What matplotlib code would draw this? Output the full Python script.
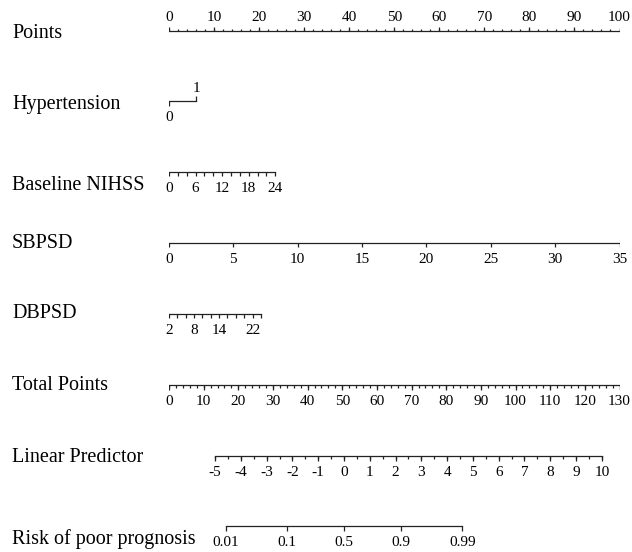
import numpy as np
import matplotlib
matplotlib.use("Agg")
import matplotlib.pyplot as plt
import matplotlib.transforms as mtransforms

plt.rcParams['font.family'] = ['Liberation Serif', 'DejaVu Serif']

# --- nomogram data ---
points_ticks = list(range(0, 101, 10))
points_minor = list(range(0, 101, 2))

hyper_vals = [0, 1]
hyper_pts = [0, 6.0]           # points for hypertension = 1

nihss_range = [0, 24]
nihss_pts_max = 23.6           # points at NIHSS = 24
nihss_labels = [0, 6, 12, 18, 24]
nihss_ticks = list(range(0, 25, 2))

sbpsd_range = [0, 35]
sbpsd_pts_max = 100.0
sbpsd_labels = [0, 5, 10, 15, 20, 25, 30, 35]

dbpsd_range = [2, 24]
dbpsd_pts_max = 20.4
dbpsd_labels = [2, 8, 14, 22]
dbpsd_ticks = list(range(2, 25, 2))

total_max = 130
total_labels = list(range(0, 131, 10))
total_minor = list(range(0, 131, 2))

lp_labels = list(range(-5, 11))
lp_minor = list(np.arange(-5, 10.01, 0.5))
tp_at_lp = [13.3, 124.9]       # total points at LP = -5 and LP = 10

risk_labels = [0.01, 0.1, 0.5, 0.9, 0.99]

row_names = ["Points", "Hypertension", "Baseline NIHSS", "SBPSD", "DBPSD",
             "Total Points", "Linear Predictor", "Risk of poor prognosis"]
row_y = [31, 101, 172, 243, 314, 385, 456, 526]
name_y = [34, 104, 185, 243, 314, 385, 457, 539]

fig = plt.figure(figsize=(6.32, 5.52), dpi=100)
ax = fig.add_axes([169 / 632, 0, 450.5 / 632, 1])
ax.set_xlim(0, 100)
ax.set_ylim(552, 0)
ax.axis('off')

lc = '#222222'
lw = 0.9
fs = 11


def scale(vals, lo, hi, pmax):
    return [(v - lo) / (hi - lo) * pmax for v in vals]


def tp2x(tp):
    return np.asarray(tp) * 100.0 / total_max


def lp2tp(lp):
    a, b = tp_at_lp
    return a + (np.asarray(lp) + 5) * (b - a) / 15.0


# Points
y = row_y[0]
ax.plot([0, 100], [y, y], color=lc, lw=lw)
ax.vlines(points_minor, y - 2.5, y, color=lc, lw=lw)
ax.vlines(points_ticks, y - 4, y, color=lc, lw=lw)
for v in points_ticks:
    ax.text(v, y - 7, str(v), ha='center', va='bottom', fontsize=fs)

# Hypertension
y = row_y[1]
ax.plot(hyper_pts, [y, y], color=lc, lw=lw)
ax.vlines(hyper_pts[0], y, y + 5, color=lc, lw=lw)
ax.vlines(hyper_pts[1], y - 5, y, color=lc, lw=lw)
ax.text(hyper_pts[0], y + 10, str(hyper_vals[0]), ha='center', va='top', fontsize=fs)
ax.text(hyper_pts[1], y - 6, str(hyper_vals[1]), ha='center', va='bottom', fontsize=fs)


def down_scale(y, tick_x, label_x, labels):
    ax.plot([min(tick_x), max(tick_x)], [y, y], color=lc, lw=lw)
    ax.vlines(tick_x, y, y + 4, color=lc, lw=lw)
    for xx, lab in zip(label_x, labels):
        ax.text(xx, y + 10, str(lab), ha='center', va='top', fontsize=fs)


# Baseline NIHSS
down_scale(row_y[2], scale(nihss_ticks, *nihss_range, nihss_pts_max),
           scale(nihss_labels, *nihss_range, nihss_pts_max), nihss_labels)
# SBPSD
down_scale(row_y[3], scale(sbpsd_labels, *sbpsd_range, sbpsd_pts_max),
           scale(sbpsd_labels, *sbpsd_range, sbpsd_pts_max), sbpsd_labels)
# DBPSD
dlo = dbpsd_range[0]
down_scale(row_y[4], scale(dbpsd_ticks, dlo, dbpsd_range[1], dbpsd_pts_max),
           scale(dbpsd_labels, dlo, dbpsd_range[1], dbpsd_pts_max), dbpsd_labels)

# Total Points
y = row_y[5]
ax.plot([0, 100], [y, y], color=lc, lw=lw)
ax.vlines(tp2x(total_minor), y, y + 3, color=lc, lw=lw)
ax.vlines(tp2x(total_labels), y, y + 4.5, color=lc, lw=lw)
for v in total_labels:
    ax.text(tp2x(v), y + 10, str(v), ha='center', va='top', fontsize=fs)

# Linear Predictor
y = row_y[6]
xs = tp2x(lp2tp(lp_labels))
ax.plot([xs[0], xs[-1]], [y, y], color=lc, lw=lw)
ax.vlines(tp2x(lp2tp(lp_minor)), y, y + 3, color=lc, lw=lw)
ax.vlines(xs, y, y + 4.5, color=lc, lw=lw)
for xx, v in zip(xs, lp_labels):
    ax.text(xx, y + 10, str(v), ha='center', va='top', fontsize=fs)

# Risk
y = row_y[7]
rl = np.array(risk_labels)
xs = tp2x(lp2tp(np.log(rl / (1 - rl))))
ax.plot([xs[0], xs[-1]], [y, y], color=lc, lw=lw)
ax.vlines(xs, y, y + 5, color=lc, lw=lw)
for xx, v in zip(xs, risk_labels):
    ax.text(xx, y + 10, str(v), ha='center', va='top', fontsize=fs)

# row names
tr = mtransforms.blended_transform_factory(fig.transFigure, ax.transData)
for name, yy in zip(row_names, name_y):
    ax.text(12 / 632, yy, name, transform=tr, ha='left', va='center', fontsize=14.5)

fig.savefig("out.png", dpi=100)
